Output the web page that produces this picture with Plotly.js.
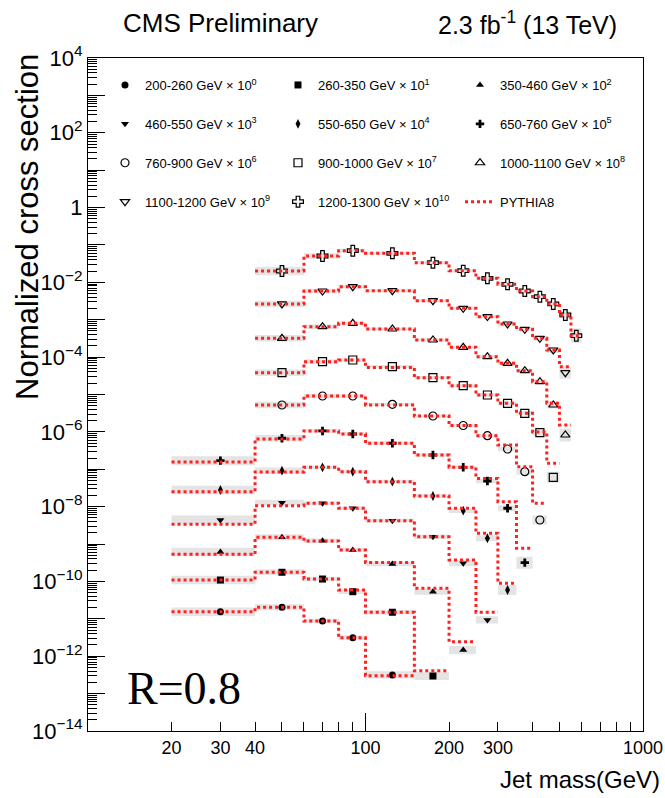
<!DOCTYPE html>
<html><head><meta charset="utf-8">
<script src="https://cdn.plot.ly/plotly-3.0.1.min.js"></script>
<style>html,body{margin:0;padding:0;background:#fff}#chart{width:665px;height:798px}</style>
</head><body><div id="chart"></div>
<script>
// Jet mass bin edges (GeV)
const binLo = [20,40,60,80,100,150,200,250,300,350,400,450,500,550];
const binHi = [40,60,80,100,150,200,250,300,350,400,450,500,550,600];

// Legend labels (pT ranges and scale factors)
const ptRanges = ['200-260','260-350','350-460','460-550','550-650','650-760','760-900','900-1000','1000-1100','1100-1200','1200-1300'];
const scalePow = ['0','1','2','3','4','5','6','7','8','9','10'];
// index of first populated bin per series
const firstBin = [0,0,0,0,0,0,1,1,1,1,1];

// Data (scaled, as plotted)
const data_200_260  = [1.55e-11,2.04e-11,8.75e-12,3.13e-12,3.15e-13];
const data_260_350  = [1.09e-10,1.76e-10,1.16e-10,5.32e-11,1.50e-11,2.96e-13];
const data_350_460  = [6.1e-10,1.52e-9,1.23e-9,6.95e-10,2.93e-10,5.32e-11,1.47e-12];
const data_460_550  = [4.40e-9,1.28e-8,1.23e-8,9.06e-9,4.22e-9,1.57e-9,3.06e-10,9.31e-12];
const data_550_650  = [2.79e-8,9.16e-8,1.13e-7,8.61e-8,4.66e-8,1.93e-8,7.80e-9,1.43e-9,5.91e-11];
const data_650_760  = [1.70e-7,6.75e-7,1.06e-6,8.79e-7,4.96e-7,2.41e-7,1.13e-7,4.86e-8,9.06e-9,3.18e-10];
const data_760_900  = [5.24e-6,9.12e-6,9.12e-6,5.47e-6,2.66e-6,1.48e-6,7.93e-7,3.49e-7,8.62e-8,4.40e-9];
const data_900_1000 = [3.83e-5,7.55e-5,8.38e-5,5.55e-5,2.82e-5,1.72e-5,9.70e-6,5.82e-6,3.14e-6,9.53e-7,6.11e-8];
const data_1000_1100= [3.18e-4,6.52e-4,8.03e-4,5.65e-4,2.87e-4,1.83e-4,1.03e-4,6.84e-5,4.34e-5,2.20e-5,5.24e-6,8.26e-7];
const data_1100_1200= [2.64e-3,5.86e-3,7.64e-3,5.97e-3,3.23e-3,2.02e-3,1.21e-3,7.69e-4,5.55e-4,3.18e-4,1.55e-4,3.83e-5];
const data_1200_1300= [2.01e-2,5.06e-2,7.01e-2,5.98e-2,3.35e-2,2.05e-2,1.28e-2,8.87e-3,5.86e-3,4.13e-3,2.64e-3,1.34e-3,3.74e-4];

// PYTHIA8 prediction
const py_200_260  = [1.55e-11,2.04e-11,8.75e-12,3.1e-12,3.0e-13];
const py_260_350  = [1.09e-10,1.76e-10,1.16e-10,5.9e-11,1.50e-11,4.1e-13];
const py_350_460  = [5.3e-10,1.52e-9,1.2e-9,6.95e-10,3.2e-10,6.56e-11,2.45e-12];
const py_460_550  = [3.4e-9,1.06e-8,1.23e-8,9.06e-9,4.22e-9,1.57e-9,3.75e-10,1.5e-11];
const py_550_650  = [2.5e-8,8.5e-8,1.13e-7,8.61e-8,4.66e-8,1.93e-8,9.06e-9,1.94e-9,8.9e-11];
const py_650_760  = [1.57e-7,6.5e-7,1.06e-6,8.79e-7,4.96e-7,2.41e-7,1.13e-7,5.7e-8,1.36e-8,7.7e-10];
const py_760_900  = [5.24e-6,9.12e-6,9.12e-6,5.24e-6,2.66e-6,1.48e-6,7.93e-7,4.47e-7,1.17e-7,1.23e-8];
const py_900_1000 = [3.83e-5,7.55e-5,8.38e-5,5.3e-5,2.82e-5,1.72e-5,9.70e-6,5.82e-6,3.14e-6,1.0e-6,1.45e-7];
const py_1000_1100= [3.18e-4,6.52e-4,8.03e-4,5.65e-4,2.87e-4,1.83e-4,1.03e-4,6.84e-5,4.34e-5,2.20e-5,5.8e-6,1.53e-6];
const py_1100_1200= [2.64e-3,5.86e-3,7.64e-3,5.97e-3,3.23e-3,2.02e-3,1.21e-3,7.69e-4,5.55e-4,3.18e-4,1.55e-4,5.55e-5];
const py_1200_1300= [2.01e-2,5.06e-2,7.01e-2,5.98e-2,3.35e-2,2.05e-2,1.28e-2,8.87e-3,5.86e-3,4.13e-3,2.64e-3,1.34e-3,3.74e-4];

// Relative total uncertainty (band half-size)
const unc_200_260  = [0.30,0.20,0.15,0.15,0.25];
const unc_260_350  = [0.30,0.20,0.15,0.15,0.15,0.28];
const unc_350_460  = [0.30,0.20,0.15,0.12,0.15,0.20,0.28];
const unc_460_550  = [0.32,0.20,0.12,0.12,0.12,0.15,0.20,0.25];
const unc_550_650  = [0.30,0.22,0.12,0.12,0.12,0.12,0.15,0.20,0.36];
const unc_650_760  = [0.32,0.22,0.12,0.12,0.12,0.12,0.12,0.15,0.20,0.45];
const unc_760_900  = [0.22,0.15,0.12,0.10,0.10,0.12,0.12,0.15,0.20,0.32];
const unc_900_1000 = [0.22,0.15,0.12,0.10,0.10,0.12,0.12,0.12,0.15,0.20,0.40];
const unc_1000_1100= [0.22,0.15,0.12,0.10,0.10,0.10,0.12,0.12,0.12,0.15,0.25,0.50];
const unc_1100_1200= [0.22,0.15,0.12,0.10,0.10,0.10,0.10,0.12,0.12,0.15,0.20,0.45];
const unc_1200_1300= [0.30,0.18,0.12,0.10,0.10,0.10,0.10,0.12,0.12,0.15,0.15,0.25,0.55];

const allData = [data_200_260,data_260_350,data_350_460,data_460_550,data_550_650,data_650_760,data_760_900,data_900_1000,data_1000_1100,data_1100_1200,data_1200_1300];
const allPy = [py_200_260,py_260_350,py_350_460,py_460_550,py_550_650,py_650_760,py_760_900,py_900_1000,py_1000_1100,py_1100_1200,py_1200_1300];
const allUnc = [unc_200_260,unc_260_350,unc_350_460,unc_460_550,unc_550_650,unc_650_760,unc_760_900,unc_900_1000,unc_1000_1100,unc_1100_1200,unc_1200_1300];

const symbols = ['circle','square','triangle-up','triangle-down','diamond-tall','cross','circle-open','square-open','triangle-up-open','triangle-down-open','cross-open'];
const sizes = [7,7,7,7,7,7,8,8,8,8,9];
const legendOf = ['legend','legend2','legend3'];

const bands = [], pys = [], marks = [];
for (let s = 0; s < allData.length; s++) {
  const v = allData[s], p = allPy[s], u = allUnc[s], f = firstBin[s];
  const bx = [], by = [], mx = [], lx = [], ly = [];
  for (let i = 0; i < v.length; i++) {
    const lo = binLo[f+i], hi = binHi[f+i];
    const ylo = v[i]/(1+u[i]), yhi = v[i]*(1+u[i]);
    bx.push(lo,hi,hi,lo,lo,null); by.push(ylo,ylo,yhi,yhi,ylo,null);
    mx.push((lo+hi)/2);
    lx.push(lo); ly.push(p[i]);
  }
  lx.push(binHi[f+v.length-1]); ly.push(p[p.length-1]);
  bands.push({x:bx,y:by,type:'scatter',mode:'lines',fill:'toself',fillcolor:'#e4e4e4',
    line:{width:0,color:'#e4e4e4'},showlegend:false,hoverinfo:'skip'});
  pys.push({x:lx,y:ly,type:'scatter',mode:'lines',line:{shape:'hv',color:'#ff2020',width:3,dash:'3px,3px'},
    name:'PYTHIA8',showlegend:s===0,legend:'legend3',legendgroup:'py',hoverinfo:'skip'});
  const open = symbols[s].indexOf('open')>=0;
  marks.push({x:mx,y:v,type:'scatter',mode:'markers',
    name: ptRanges[s]+' GeV \u00d7 10<sup>'+scalePow[s]+'</sup>',
    legend: legendOf[s%3], legendgroup:'g'+s,
    marker:{symbol:symbols[s],size:sizes[s],color:'black',line:{color:'black',width:open?1.2:0}},
    hoverinfo:'skip'});
}

// y ticks
const yMajor = [], yText = [], yMinor = [];
for (let k = -14; k <= 4; k++) {
  yMajor.push(Math.pow(10,k));
  if (k % 2 === 0) yText.push(k===0 ? '1' : '10<sup>'+(k<0?'\u2212'+(-k):k)+'</sup>');
  else yText.push('');
  if (k < 4) for (let m = 2; m <= 9; m++) yMinor.push(m*Math.pow(10,k));
}
const xTickVals = [20,30,40,50,60,70,80,90,100,200,300,400,500,600,700,800,900,1000];
const xTickText = ['20','30','40','','','','','','100','200','300','','','','','','','1000'];

const W=665,H=798,L=88,R=22,T=58,B=67;
const pw=W-L-R, ph=H-T-B;
const px = x => (x-L)/pw, pyc = y => (H-B-y)/ph;

const font = 'Liberation Sans, Arial, Helvetica, sans-serif';
const legCommon = {xref:'paper',yref:'paper',xanchor:'left',yanchor:'top',
    bgcolor:'rgba(0,0,0,0)',font:{size:13,family:font},traceorder:'grouped',tracegroupgap:19};
const layout = {
  width:W,height:H,margin:{l:L,r:R,t:T,b:B,autoexpand:false},
  paper_bgcolor:'white',plot_bgcolor:'white',
  showlegend:true,
  font:{family:font,color:'black'},
  xaxis:{type:'log',range:[1,3],tickmode:'array',tickvals:xTickVals,ticktext:xTickText,
    ticks:'inside',ticklen:9,tickwidth:1,tickcolor:'black',showline:true,linecolor:'black',linewidth:1,
    mirror:true,showgrid:false,zeroline:false,tickfont:{size:18,family:font},automargin:false},
  yaxis:{type:'log',range:[-14,4],tickmode:'array',tickvals:yMajor,ticktext:yText,
    ticks:'inside',ticklen:17,tickwidth:1,tickcolor:'black',showline:true,linecolor:'black',linewidth:1,
    mirror:true,showgrid:false,zeroline:false,tickfont:{size:22,family:font},automargin:false,
    minor:{tickvals:yMinor,ticks:'inside',ticklen:9,tickcolor:'black',tickwidth:1,showgrid:false}},
  legend:Object.assign({x:px(105),y:pyc(70)},legCommon),
  legend2:Object.assign({x:px(278),y:pyc(70)},legCommon),
  legend3:Object.assign({x:px(460),y:pyc(70)},legCommon),
  shapes:[{type:'line',xref:'x',yref:'paper',x0:100,x1:100,y0:0,y1:18/ph,line:{color:'black',width:1}}],
  annotations:[
    {text:'CMS Preliminary',xref:'paper',yref:'paper',x:px(220),y:pyc(23),xanchor:'center',yanchor:'middle',showarrow:false,font:{size:26,family:font}},
    {text:'2.3 fb<sup>-1</sup> (13 TeV)',xref:'paper',yref:'paper',x:px(619),y:pyc(23),xanchor:'right',yanchor:'middle',showarrow:false,font:{size:25,family:font}},
    {text:'R=0.8',xref:'paper',yref:'paper',x:px(125),y:pyc(688),xanchor:'left',yanchor:'middle',showarrow:false,font:{size:46,family:'Liberation Serif, Times New Roman, serif'}},
    {text:'Normalized cross section',xref:'paper',yref:'paper',x:px(27),y:pyc(227),xanchor:'center',yanchor:'middle',textangle:-90,showarrow:false,font:{size:31,family:font}},
    {text:'Jet mass(GeV)',xref:'paper',yref:'paper',x:px(662),y:pyc(779),xanchor:'right',yanchor:'middle',showarrow:false,font:{size:24,family:font}}
  ]
};
Plotly.newPlot('chart',[...bands,...marks,...pys],layout,{displayModeBar:false,staticPlot:true});
</script></body></html>
